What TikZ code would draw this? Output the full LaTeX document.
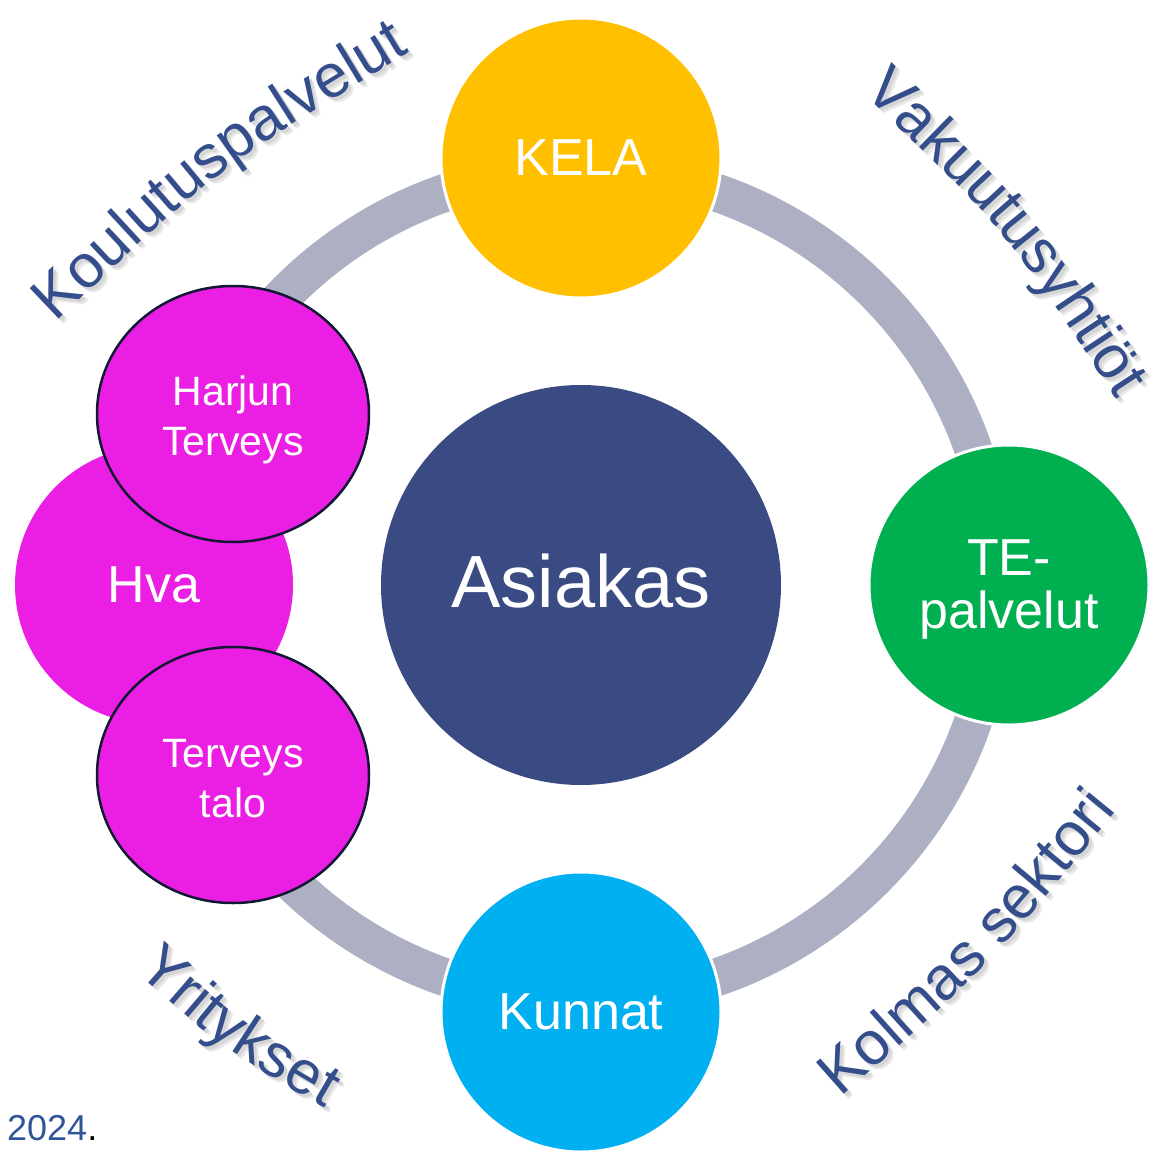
\documentclass[tikz,border=0pt]{standalone}
\usepackage{fontspec}
\setmainfont{Liberation Sans}
\usetikzlibrary{shapes.geometric,decorations.text}
\definecolor{ringc}{HTML}{ADB0C2}
\definecolor{navy}{HTML}{3A4A82}
\definecolor{txtc}{HTML}{344D8B}
\definecolor{kelac}{HTML}{FFC000}
\definecolor{tec}{HTML}{00B050}
\definecolor{kunc}{HTML}{00B0F0}
\definecolor{magc}{HTML}{EB1FE4}
\definecolor{edgec}{HTML}{121833}
\definecolor{yearc}{HTML}{2F5597}
\begin{document}
\begin{tikzpicture}[x=1pt,y=-1pt,
  bubble/.style={circle, inner sep=0pt, minimum size=280pt, draw=white, line width=3pt},
  subbubble/.style={ellipse, inner sep=0pt, minimum width=272pt, minimum height=256pt, draw=edgec, line width=2.5pt, fill=magc},
  lbl/.style={text=white, inner sep=0pt, font=\fontsize{52}{52}\selectfont},
  sublbl/.style={text=white, inner sep=0pt, font=\fontsize{41}{41}\selectfont, anchor=base},
  curved/.style 2 args={decorate, decoration={text along path, text align=center, text={|\fontsize{61}{61}\selectfont\color{#2}|#1}}},
]
\useasboundingbox (0,0) rectangle (1152,1151);
\fill[white] (0,0) rectangle (1152,1151);

% ring
\coordinate (ctr) at (581,585);
\draw[draw=ringc, line width=38pt] (ctr) circle[radius=415pt];

% outer bubbles
\node[bubble, fill=kelac] (kela) at (581,158) {};
\node[lbl] (kelat) at (kela.center) {KELA};
\node[bubble, fill=tec] (te) at (1009,585) {};
\node[lbl, anchor=base] (te1) at (1009,575) {TE-};
\node[lbl, anchor=base] (te2) at (1009,628) {palvelut};
\node[bubble, fill=kunc] (kun) at (581,1012) {};
\node[lbl] (kunt) at (kun.center) {Kunnat};
\node[bubble, fill=magc, draw=none, minimum size=278pt] (hva) at (154,585) {};
\node[lbl] (hvat) at (hva.center) {Hva};
\node[subbubble] (harjun) at (233,414) {};
\node[sublbl] (harjun1) at (233,405) {Harjun};
\node[sublbl] (harjun2) at (233,455) {Terveys};
\node[subbubble] (talo) at (233,775) {};
\node[sublbl] (talo1) at (233,767) {Terveys};
\node[sublbl] (talo2) at (233,817) {talo};

% centre
\node[circle, fill=navy, minimum size=400pt, inner sep=0pt] (asiakas) at (ctr) {};
\node[lbl, font=\fontsize{74}{74}\selectfont] (asiakast) at (581,581) {Asiakas};

% curved labels
\coordinate (k1) at (50,328);  \coordinate (kc) at (218,168);  \coordinate (k2) at (417,48);
\coordinate (v1) at (862,92); \coordinate (vc) at (1006,230); \coordinate (v2) at (1117,400);
\coordinate (y1) at (137,973); \coordinate (yc) at (222,1048); \coordinate (y2) at (323,1107);
\coordinate (s1) at (838,1100); \coordinate (sc) at (990,966); \coordinate (s2) at (1119,808);

\foreach \a/\b/\c/\t in {k1/kc/k2/Koulutuspalvelut, v1/vc/v2/Vakuutusyhtiöt, y1/yc/y2/Yritykset, s1/sc/s2/Kolmas sektori}{
  \path[curved={\t}{black!9}] ([shift={(5,5)}]\a) .. controls ([shift={(5,5)}]\b) .. ([shift={(5,5)}]\c);
  \path[curved={\t}{black!16}] ([shift={(3,3)}]\a) .. controls ([shift={(3,3)}]\b) .. ([shift={(3,3)}]\c);
  \path[curved={\t}{txtc}] (\a) .. controls (\b) .. (\c);
}

% year
\node[anchor=base west, inner sep=0pt, font=\fontsize{36}{36}\selectfont] (year) at (7,1140) {\textcolor{yearc}{2024}.};
\end{tikzpicture}
\end{document}
